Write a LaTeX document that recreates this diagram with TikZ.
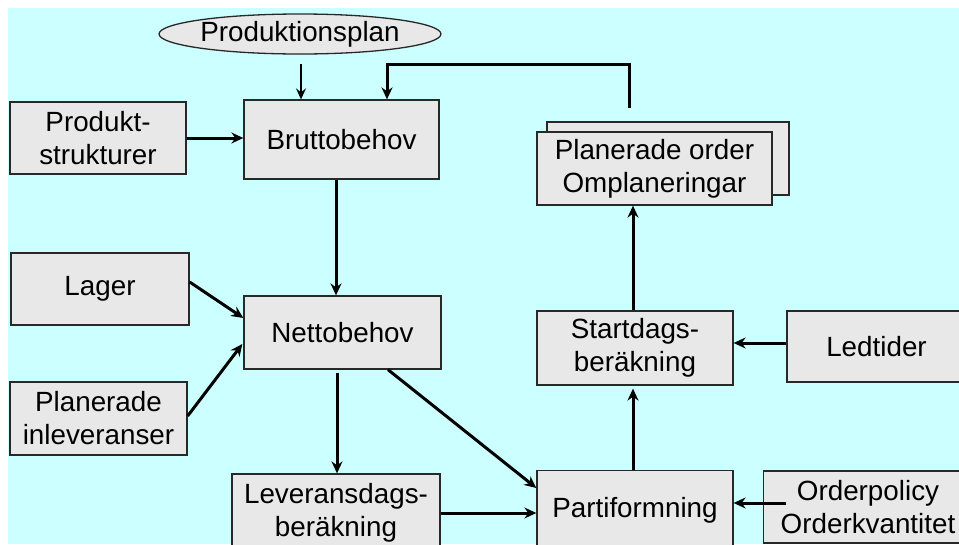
\documentclass[tikz,border=0pt]{standalone}
\usepackage{fontspec}
\setmainfont{Liberation Sans}
\usetikzlibrary{arrows.meta,calc,shapes.geometric}
\definecolor{bgcyan}{RGB}{204,255,255}
\definecolor{boxgray}{RGB}{232,232,232}
\definecolor{edgegray}{RGB}{40,40,40}
\begin{document}
\begin{tikzpicture}[x=1pt,y=-1pt,
  box/.style={draw=edgegray,line width=1.3pt,fill=boxgray,rectangle,inner sep=0pt,align=center,
    font=\fontsize{27.8}{33}\selectfont},
  oval/.style={draw=edgegray,line width=1.3pt,fill=boxgray,ellipse,inner sep=0pt,
    font=\fontsize{27.8}{33}\selectfont},
  thickarrow/.style={line width=3pt,-{Stealth[length=12pt,width=11pt,inset=4pt]}},
  thinarrow/.style={line width=1.5pt,-{Stealth[length=11pt,width=10pt,inset=4pt]}}]
\clip (0,0) rectangle (959,544);
\fill[white] (0,0) rectangle (959,544);
\fill[bgcyan] (8,8) rectangle (959,544);

\node[oval,minimum width=260pt,minimum height=40pt] (plan) at (300,34) {Produktionsplan};
\node[box,minimum width=176pt,minimum height=72pt] (prod) at (98,138) {Produkt-\\strukturer};
\node[box,minimum width=195pt,minimum height=79pt] (brutto) at (341.5,139.5) {Bruttobehov};
\node[box,minimum width=178pt,minimum height=72pt] (lager) at (100,289) {Lager};
\node[box,minimum width=197pt,minimum height=73pt] (netto) at (342.5,332.5) {Nettobehov};
\node[box,minimum width=177pt,minimum height=73pt] (planinl) at (98.5,418.5) {Planerade\\inleveranser};
\node[box,minimum width=208pt,minimum height=78pt] (lev) at (336,513) {Leveransdags-\\beräkning};
\node[box,minimum width=196pt,minimum height=79pt] (parti) at (635,510) {Partiformning};
\node[box,minimum width=209pt,minimum height=72pt] (op) at (868,507) {Orderpolicy\\Orderkvantitet};
\node[box,minimum width=196pt,minimum height=74pt] (start) at (635,348) {Startdags-\\beräkning};
\node[box,minimum width=179pt,minimum height=71pt] (led) at (876.5,346.5) {Ledtider};
\node[box,minimum width=242pt,minimum height=73pt] (plback) at (668,158.5) {};
\node[box,minimum width=235pt,minimum height=73pt] (plorder) at (654.5,168.5) {Planerade order\\Omplaneringar};

% helper coordinates
\coordinate (p1) at ($(plan.south)+(1,9)$);
\coordinate (b1) at ($(brutto.south)+(-5.5,0)$);
\coordinate (n1) at ($(netto.south)+(-5.5,3)$);
\coordinate (n2) at ($(netto.south)+(45.5,0)$);
\coordinate (s1) at ($(parti.north)+(-2,0)$);
\coordinate (s2) at ($(start.north)+(-2,0)$);
\coordinate (fb) at (629,108);
\coordinate (fbc) at (629,64);
\coordinate (fbd) at (387,64);
\coordinate (opstart) at (786,503);

% connectors
\draw[thinarrow] (p1) -- (p1 |- brutto.north);
\draw[thickarrow] (prod.east) -- (prod.east -| brutto.west);
\draw[thickarrow] (fb) -- (fbc) -- (fbd) -- (fbd |- brutto.north);
\draw[thickarrow] (b1) -- (b1 |- netto.north);
\draw[thickarrow] ($(lager.east)+(0,-7)$) -- ($(netto.west)+(0,-14.5)$);
\draw[thickarrow] ($(planinl.east)+(0,-2.5)$) -- ($(netto.west)+(-1,11.5)$);
\draw[thickarrow] (n1) -- (n1 |- lev.north);
\draw[thickarrow] (n2) -- ($(parti.west)+(0,-22)$);
\draw[thickarrow] (lev.east) -- (lev.east -| parti.west);
\draw[thickarrow] (s1) -- ($(start.south)+(-2,3)$);
\draw[thickarrow] (s2) -- (s2 |- plorder.south);
\draw[thickarrow] ($(led.west)+(0,-3.5)$) -- ($(start.east)+(0,-5)$);
\draw[thickarrow] (opstart) -- (opstart -| parti.east);
\end{tikzpicture}
\end{document}
